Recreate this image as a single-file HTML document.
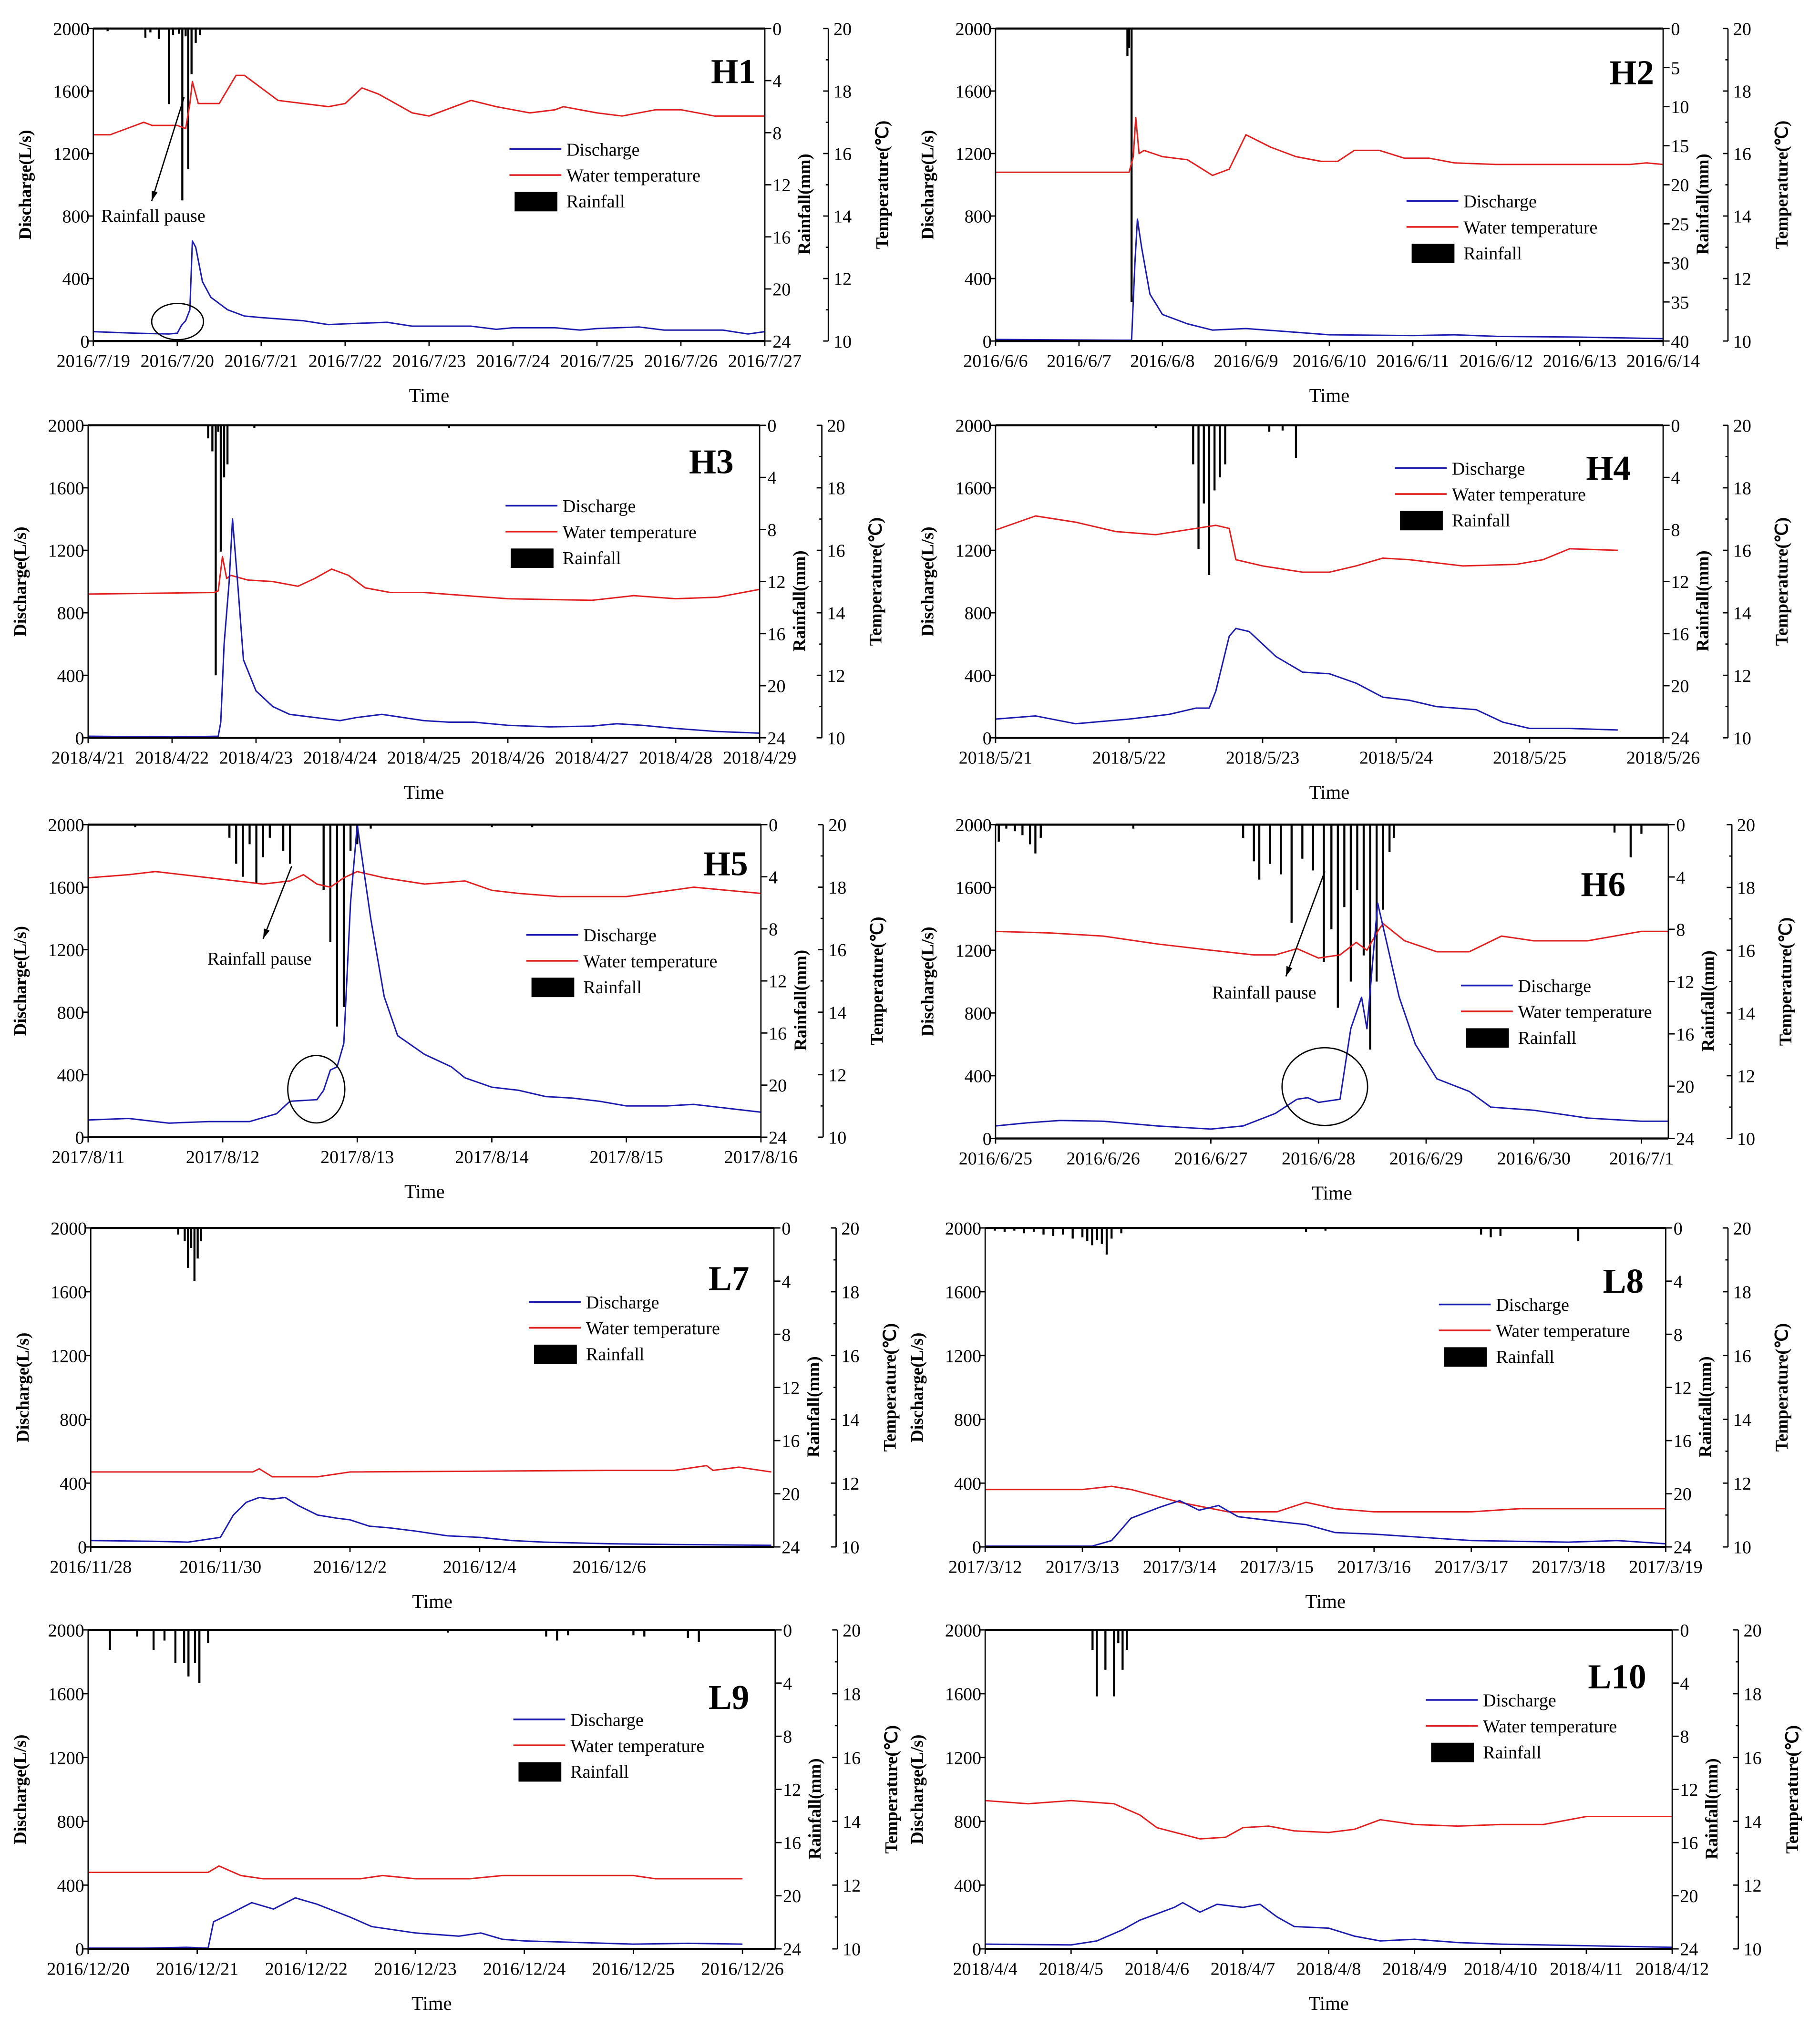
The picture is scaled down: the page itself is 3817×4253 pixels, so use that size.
<!DOCTYPE html>
<html><head><meta charset="utf-8"><title>Hydrographs</title>
<style>html,body{margin:0;padding:0;background:#fff}svg{display:block}text{font-family:"Liberation Serif",serif;fill:#000}</style>
</head><body>
<svg id="fig" xmlns="http://www.w3.org/2000/svg" width="3817" height="4253" viewBox="0 0 1404 1564" preserveAspectRatio="none"></svg>
<script>
// ---- data (days since first tick, values) ----
const h1Dates=["2016/7/19","2016/7/20","2016/7/21","2016/7/22","2016/7/23","2016/7/24","2016/7/25","2016/7/26","2016/7/27"];
const h1Discharge=[[0,60],[0.5,50],[0.9,45],[1,50],[1.05,100],[1.1,130],[1.15,200],[1.18,640],[1.22,600],[1.3,380],[1.4,280],[1.6,200],[1.8,160],[2,150],[2.5,130],[2.8,105],[3,110],[3.5,120],[3.8,95],[4,95],[4.5,95],[4.8,75],[5,85],[5.5,85],[5.8,70],[6,80],[6.5,90],[6.8,70],[7,70],[7.5,70],[7.8,45],[8,60]];
const h1Temp=[[0,16.6],[0.2,16.6],[0.5,16.9],[0.6,17],[0.7,16.9],[1,16.9],[1.1,16.8],[1.15,17.6],[1.18,18.3],[1.25,17.6],[1.5,17.6],[1.7,18.5],[1.8,18.5],[2,18.1],[2.2,17.7],[2.5,17.6],[2.8,17.5],[3,17.6],[3.2,18.1],[3.4,17.9],[3.8,17.3],[4,17.2],[4.5,17.7],[4.8,17.5],[5,17.4],[5.2,17.3],[5.5,17.4],[5.6,17.5],[6,17.3],[6.3,17.2],[6.7,17.4],[7,17.4],[7.4,17.2],[8,17.2]];
const h1Rain=[[0.17,0.2],[0.62,0.7],[0.68,0.3],[0.78,0.8],[0.9,5.8],[0.95,0.5],[1.02,0.4],[1.06,13.2],[1.1,0.6],[1.13,10.8],[1.17,3.5],[1.22,1.1],[1.27,0.5]];
const h2Dates=["2016/6/6","2016/6/7","2016/6/8","2016/6/9","2016/6/10","2016/6/11","2016/6/12","2016/6/13","2016/6/14"];
const h2Discharge=[[0,10],[1.5,5],[1.63,5],[1.67,500],[1.7,780],[1.75,600],[1.85,300],[2,170],[2.3,110],[2.6,70],[3,80],[3.5,60],[4,40],[5,35],[5.5,40],[6,30],[7,25],[8,15]];
const h2Temp=[[0,15.4],[1.6,15.4],[1.65,15.9],[1.68,17.15],[1.72,16],[1.78,16.1],[2,15.9],[2.3,15.8],[2.6,15.3],[2.8,15.5],[3,16.6],[3.3,16.2],[3.6,15.9],[3.9,15.75],[4.1,15.75],[4.3,16.1],[4.6,16.1],[4.9,15.85],[5.2,15.85],[5.5,15.7],[6,15.65],[7.6,15.65],[7.8,15.7],[8,15.65]];
const h2Rain=[[1.58,3.5],[1.6,2.5],[1.63,35]];
const h3Dates=["2018/4/21","2018/4/22","2018/4/23","2018/4/24","2018/4/25","2018/4/26","2018/4/27","2018/4/28","2018/4/29"];
const h3Discharge=[[0,10],[1,5],[1.55,10],[1.58,100],[1.62,600],[1.68,1000],[1.72,1400],[1.78,1000],[1.85,500],[2,300],[2.2,200],[2.4,150],[2.7,130],[3,110],[3.2,130],[3.5,150],[4,110],[4.3,100],[4.6,100],[5,80],[5.5,70],[6,75],[6.3,90],[6.6,80],[7,60],[7.5,40],[8,30]];
const h3Temp=[[0,14.6],[1.5,14.65],[1.55,14.7],[1.6,15.8],[1.65,15.1],[1.7,15.2],[1.9,15.05],[2.2,15],[2.5,14.85],[2.7,15.1],[2.9,15.4],[3.1,15.2],[3.3,14.8],[3.6,14.65],[4,14.65],[4.5,14.55],[5,14.45],[6,14.4],[6.5,14.55],[7,14.45],[7.5,14.5],[8,14.75]];
const h3Rain=[[1.43,1],[1.48,2],[1.52,19.2],[1.55,0.5],[1.58,9.7],[1.62,4],[1.66,3],[1.98,0.2],[4.3,0.2]];
const h4Dates=["2018/5/21","2018/5/22","2018/5/23","2018/5/24","2018/5/25","2018/5/26"];
const h4Discharge=[[0,120],[0.3,140],[0.6,90],[1,120],[1.3,150],[1.5,190],[1.6,190],[1.65,300],[1.75,650],[1.8,700],[1.9,680],[2.1,520],[2.3,420],[2.5,410],[2.7,350],[2.9,260],[3.1,240],[3.3,200],[3.6,180],[3.8,100],[4,60],[4.3,60],[4.66,50]];
const h4Temp=[[0,16.65],[0.3,17.1],[0.6,16.9],[0.9,16.6],[1.2,16.5],[1.5,16.7],[1.65,16.8],[1.75,16.7],[1.8,15.7],[2,15.5],[2.3,15.3],[2.5,15.3],[2.7,15.5],[2.9,15.75],[3.1,15.7],[3.5,15.5],[3.9,15.55],[4.1,15.7],[4.3,16.05],[4.66,16]];
const h4Rain=[[1.2,0.2],[1.48,3],[1.52,9.5],[1.56,6],[1.6,11.5],[1.64,5],[1.68,4],[1.72,3],[2.05,0.5],[2.15,0.4],[2.25,2.5]];
const h5Dates=["2017/8/11","2017/8/12","2017/8/13","2017/8/14","2017/8/15","2017/8/16"];
const h5Discharge=[[0,110],[0.3,120],[0.6,90],[0.9,100],[1.2,100],[1.4,150],[1.5,230],[1.7,240],[1.75,300],[1.8,430],[1.85,450],[1.9,600],[1.95,1500],[2,2000],[2.1,1400],[2.2,900],[2.3,650],[2.5,530],[2.7,450],[2.8,380],[3,320],[3.2,300],[3.4,260],[3.6,250],[3.8,230],[4,200],[4.3,200],[4.5,210],[4.7,190],[5,160]];
const h5Temp=[[0,18.3],[0.3,18.4],[0.5,18.5],[0.9,18.3],[1.3,18.1],[1.5,18.2],[1.6,18.4],[1.7,18.1],[1.8,18],[1.9,18.3],[2,18.5],[2.2,18.3],[2.5,18.1],[2.8,18.2],[3,17.9],[3.2,17.8],[3.5,17.7],[4,17.7],[4.5,18],[5,17.8]];
const h5Rain=[[0.35,0.2],[1.05,1],[1.1,3],[1.15,4],[1.2,1.5],[1.25,4.5],[1.3,2.5],[1.35,1],[1.45,2],[1.5,3],[1.75,5],[1.8,9],[1.85,15.5],[1.9,14],[1.95,2],[2,1.5],[2.1,0.3],[3,0.2],[3.3,0.2]];
const h6Dates=["2016/6/25","2016/6/26","2016/6/27","2016/6/28","2016/6/29","2016/6/30","2016/7/1"];
const h6Discharge=[[0,80],[0.3,100],[0.6,115],[1,110],[1.5,80],[2,60],[2.3,80],[2.6,160],[2.8,250],[2.9,260],[3,230],[3.2,250],[3.3,700],[3.4,900],[3.45,700],[3.55,1500],[3.65,1200],[3.75,900],[3.9,600],[4.1,380],[4.4,300],[4.6,200],[5,180],[5.5,130],[6,110],[6.25,110]];
const h6Temp=[[0,16.6],[0.5,16.55],[1,16.45],[1.5,16.2],[2,16],[2.4,15.85],[2.6,15.85],[2.8,16.05],[3,15.75],[3.2,15.85],[3.35,16.25],[3.45,16],[3.55,16.6],[3.6,16.85],[3.8,16.3],[4.1,15.95],[4.4,15.95],[4.7,16.45],[5,16.3],[5.5,16.3],[6,16.6],[6.25,16.6]];
const h6Rain=[[0.03,1.3],[0.1,0.3],[0.18,0.5],[0.25,0.8],[0.32,1.5],[0.37,2.2],[0.42,1],[1.28,0.3],[2.3,1],[2.4,2.8],[2.45,4.2],[2.55,3],[2.65,3.8],[2.75,7.5],[2.85,2.6],[2.95,3.5],[3.05,10.5],[3.12,8],[3.18,14],[3.24,6.3],[3.3,12],[3.36,5],[3.42,10],[3.48,17.2],[3.54,12],[3.6,6.5],[3.66,2.1],[3.7,1],[5.75,0.6],[5.9,2.5],[6,0.7]];
const l7Dates=["2016/11/28","2016/11/30","2016/12/2","2016/12/4","2016/12/6"];
const l7Discharge=[[0,40],[1,35],[1.5,30],[2,60],[2.2,200],[2.4,280],[2.6,310],[2.8,300],[3,310],[3.2,260],[3.5,200],[3.8,180],[4,170],[4.3,130],[4.6,120],[5,100],[5.5,70],[6,60],[6.5,40],[7,30],[8,20],[9,15],[10.5,10]];
const l7Temp=[[0,12.35],[2.5,12.35],[2.6,12.45],[2.8,12.2],[3.5,12.2],[4,12.35],[8,12.4],[9,12.4],[9.5,12.55],[9.6,12.4],[10,12.5],[10.5,12.35]];
const l7Rain=[[1.35,0.5],[1.45,1],[1.5,3],[1.55,1.5],[1.6,4],[1.65,2.3],[1.7,1]];
const l8Dates=["2017/3/12","2017/3/13","2017/3/14","2017/3/15","2017/3/16","2017/3/17","2017/3/18","2017/3/19"];
const l8Discharge=[[0,5],[1.1,5],[1.3,40],[1.5,180],[1.8,250],[2,290],[2.2,230],[2.4,260],[2.6,190],[3,160],[3.3,140],[3.6,90],[4,80],[4.5,60],[5,40],[6,30],[6.5,40],[7,20]];
const l8Temp=[[0,11.8],[1,11.8],[1.3,11.9],[1.5,11.8],[2,11.4],[2.5,11.1],[3,11.1],[3.3,11.4],[3.6,11.2],[4,11.1],[5,11.1],[5.5,11.2],[7,11.2]];
const l8Rain=[[0.1,0.2],[0.2,0.3],[0.3,0.2],[0.4,0.4],[0.5,0.3],[0.6,0.5],[0.7,0.6],[0.8,0.5],[0.9,0.8],[1,0.7],[1.05,1],[1.1,1.3],[1.15,0.9],[1.2,1.2],[1.25,2],[1.3,0.8],[1.4,0.4],[3.3,0.3],[3.5,0.2],[5.1,0.5],[5.2,0.7],[5.3,0.6],[6.1,1]];
const l9Dates=["2016/12/20","2016/12/21","2016/12/22","2016/12/23","2016/12/24","2016/12/25","2016/12/26"];
const l9Discharge=[[0,5],[0.5,5],[0.9,10],[1.1,5],[1.15,170],[1.3,220],[1.5,290],[1.7,250],[1.9,320],[2.1,280],[2.4,200],[2.6,140],[3,100],[3.4,80],[3.6,100],[3.8,60],[4,50],[4.5,40],[5,30],[5.5,35],[6,30]];
const l9Temp=[[0,12.4],[1.1,12.4],[1.2,12.6],[1.4,12.3],[1.6,12.2],[2.5,12.2],[2.7,12.3],[3,12.2],[3.5,12.2],[3.8,12.3],[5,12.3],[5.2,12.2],[6,12.2]];
const l9Rain=[[0.2,1.5],[0.45,0.5],[0.6,1.5],[0.7,0.8],[0.8,2.5],[0.88,2.5],[0.92,3.5],[0.98,2.5],[1.02,4],[1.1,1],[3.3,0.2],[4.2,0.5],[4.3,0.8],[4.4,0.4],[5,0.4],[5.1,0.5],[5.5,0.6],[5.6,0.9]];
const l10Dates=["2018/4/4","2018/4/5","2018/4/6","2018/4/7","2018/4/8","2018/4/9","2018/4/10","2018/4/11","2018/4/12"];
const l10Discharge=[[0,30],[1,25],[1.3,50],[1.6,120],[1.8,180],[2,220],[2.2,260],[2.3,290],[2.5,230],[2.7,280],[3,260],[3.2,280],[3.4,200],[3.6,140],[4,130],[4.3,80],[4.6,50],[5,60],[5.5,40],[6,30],[7,20],[8,10]];
const l10Temp=[[0,14.65],[0.5,14.55],[1,14.65],[1.5,14.55],[1.8,14.2],[2,13.8],[2.5,13.45],[2.8,13.5],[3,13.8],[3.3,13.85],[3.6,13.7],[4,13.65],[4.3,13.75],[4.6,14.05],[5,13.9],[5.5,13.85],[6,13.9],[6.5,13.9],[7,14.15],[8,14.15]];
const l10Rain=[[1.25,1.5],[1.3,5],[1.4,3],[1.5,5],[1.55,1],[1.6,3],[1.65,1.5]];

const NS="http://www.w3.org/2000/svg";
const svg=document.getElementById('fig');
function el(tag,attrs,parent,txt){const e=document.createElementNS(NS,tag);for(const k in attrs)e.setAttribute(k,attrs[k]);if(txt!==undefined)e.textContent=txt;(parent||svg).appendChild(e);return e;}

function panel(c){
  const g=el('g',{});
  
  
  const xs=d=>c.x0+(c.x1-c.x0)*d/c.span;
  const yq=v=>c.y1-(c.y1-c.y0)*v/2000;
  const yr=v=>c.y0+(c.y1-c.y0)*v/c.rainMax;
  const yt=v=>c.y1-(c.y1-c.y0)*(v-10)/10;
  c.rain.forEach(r=>{const b=el('rect',{x:xs(r[0])-0.8,y:c.y0,width:1.6,height:yr(r[1])-c.y0,fill:'#000'},g);
    
    });
  const tp=el('polyline',{points:c.temp.map(p=>xs(p[0])+','+yt(p[1])).join(' '),fill:'none',stroke:'#e32020','stroke-width':1.1,'stroke-linejoin':'round'},g);
  
  
  const qp=el('polyline',{points:c.q.map(p=>xs(p[0])+','+yq(p[1])).join(' '),fill:'none',stroke:'#1c1cb0','stroke-width':1.1,'stroke-linejoin':'round'},g);
  
  
  el('line',{x1:c.x0,y1:c.y0,x2:c.x1,y2:c.y0,stroke:'#000','stroke-width':1.6},g);
  el('line',{x1:c.x0,y1:c.y1,x2:c.x1,y2:c.y1,stroke:'#000','stroke-width':1.6},g);
  el('line',{x1:c.x0,y1:c.y0,x2:c.x0,y2:c.y1,stroke:'#000','stroke-width':1},g);
  el('line',{x1:c.x1,y1:c.y0,x2:c.x1,y2:c.y1,stroke:'#000','stroke-width':1},g);
  el('line',{x1:c.tx,y1:c.y0,x2:c.tx,y2:c.y1,stroke:'#000','stroke-width':1},g);
  for(let v=0;v<=2000;v+=400){el('line',{x1:c.x0-4,y1:yq(v),x2:c.x0,y2:yq(v),stroke:'#000'},g);
    el('text',{x:c.x0-3,y:yq(v)+5,'font-size':14,'text-anchor':'end'},g,String(v));}
  for(let v=0;v<=c.rainMax;v+=c.rainStep){el('line',{x1:c.x1,y1:yr(v),x2:c.x1+5,y2:yr(v),stroke:'#000'},g);
    el('text',{x:c.x1+6,y:yr(v)+5,'font-size':14},g,String(v));}
  for(let v=10;v<=20;v+=1){const y=yt(v);el('line',{x1:c.tx-(v%2?2:4),y1:y,x2:c.tx,y2:y,stroke:'#000'},g);
    if(v%2===0)el('text',{x:c.tx+4,y:y+5,'font-size':14},g,String(v));}
  c.dates.forEach((d,i)=>{const x=xs(i*c.step);el('line',{x1:x,y1:c.y1,x2:x,y2:c.y1+4,stroke:'#000'},g);
    el('text',{x:x,y:c.y1+20,'font-size':14,'text-anchor':'middle'},g,d);});
  const t1=el('text',{x:(c.x0+c.x1)/2,y:c.y1+47,'font-size':15,'text-anchor':'middle'},g,'Time');
  
  
  const cy=(c.y0+c.y1)/2;
  const a1=el('text',{transform:`translate(${c.x0-48},${cy}) rotate(-90)`,'font-size':13.5,'text-anchor':'middle','font-weight':'bold'},g,'Discharge(L/s)');
  
  
  const a2=el('text',{transform:`translate(${c.x1+35},${cy+15}) rotate(-90)`,'font-size':13.5,'text-anchor':'middle','font-weight':'bold'},g,'Rainfall(mm)');
  
  
  const a3=el('text',{transform:`translate(${c.tx+46},${cy}) rotate(-90)`,'font-size':13.5,'text-anchor':'middle','font-weight':'bold'},g,'Temperature(℃)');
  
  
  const lb=el('text',{x:c.lx,y:c.ly,'font-size':27,'font-weight':'bold','text-anchor':'end'},g,c.label);
  
  
  const L=c.leg;
  el('line',{x1:L[0],y1:L[1],x2:L[0]+40,y2:L[1],stroke:'#1c1cb0','stroke-width':1.3},g);
  el('text',{x:L[0]+44,y:L[1]+5,'font-size':14},g,'Discharge');
  el('line',{x1:L[0],y1:L[1]+20,x2:L[0]+40,y2:L[1]+20,stroke:'#e32020','stroke-width':1.3},g);
  el('text',{x:L[0]+44,y:L[1]+25,'font-size':14},g,'Water temperature');
  el('rect',{x:L[0]+4,y:L[1]+33,width:33,height:15,fill:'#000'},g);
  el('text',{x:L[0]+44,y:L[1]+45,'font-size':14},g,'Rainfall');
  if(c.ann){const A=c.ann;
    el('line',{x1:A.a[0],y1:A.a[1],x2:A.a[2],y2:A.a[3],stroke:'#000','stroke-width':1},g);
    const ang=Math.atan2(A.a[3]-A.a[1],A.a[2]-A.a[0]);const hx=A.a[2],hy=A.a[3];
    el('polygon',{points:`${hx},${hy} ${hx-8*Math.cos(ang-0.3)},${hy-8*Math.sin(ang-0.3)} ${hx-8*Math.cos(ang+0.3)},${hy-8*Math.sin(ang+0.3)}`,fill:'#000'},g);
    el('text',{x:A.t[0],y:A.t[1],'font-size':14},g,'Rainfall pause');
    el('ellipse',{cx:A.e[0],cy:A.e[1],rx:A.e[2],ry:A.e[3],fill:'none',stroke:'#000','stroke-width':1},g);}
}
panel({label:'H1',x0:72,x1:590,y0:22,y1:263,tx:639,span:8,step:1,dates:h1Dates,rainMax:24,rainStep:4,q:h1Discharge,temp:h1Temp,rain:h1Rain,lx:583,ly:64,leg:[393,115],ann:{a:[142,75,117,155],t:[78,171],e:[137,248,20,14]}});
panel({label:'H2',x0:768,x1:1283,y0:22,y1:263,tx:1333,span:8,step:1,dates:h2Dates,rainMax:40,rainStep:5,q:h2Discharge,temp:h2Temp,rain:h2Rain,lx:1276,ly:65,leg:[1085,155]});
panel({label:'H3',x0:68,x1:586,y0:328,y1:569,tx:634,span:8,step:1,dates:h3Dates,rainMax:24,rainStep:4,q:h3Discharge,temp:h3Temp,rain:h3Rain,lx:566,ly:365,leg:[390,390]});
panel({label:'H4',x0:768,x1:1283,y0:328,y1:569,tx:1333,span:5,step:1,dates:h4Dates,rainMax:24,rainStep:4,q:h4Discharge,temp:h4Temp,rain:h4Rain,lx:1258,ly:370,leg:[1076,361]});
panel({label:'H5',x0:68,x1:587,y0:636,y1:877,tx:635,span:5,step:1,dates:h5Dates,rainMax:24,rainStep:4,q:h5Discharge,temp:h5Temp,rain:h5Rain,lx:577,ly:675,leg:[406,721],ann:{a:[225,668,203,724],t:[160,744],e:[244,840,22,26]}});
panel({label:'H6',x0:768,x1:1287,y0:636,y1:878,tx:1336,span:6.25,step:1,dates:h6Dates,rainMax:24,rainStep:4,q:h6Discharge,temp:h6Temp,rain:h6Rain,lx:1254,ly:691,leg:[1127,760],ann:{a:[1022,672,992,753],t:[935,770],e:[1022,838,33,30]}});
panel({label:'L7',x0:70,x1:597,y0:947,y1:1193,tx:645,span:10.54,step:2,dates:l7Dates,rainMax:24,rainStep:4,q:l7Discharge,temp:l7Temp,rain:l7Rain,lx:578,ly:995,leg:[408,1004]});
panel({label:'L8',x0:760,x1:1285,y0:947,y1:1193,tx:1333,span:7,step:1,dates:l8Dates,rainMax:24,rainStep:4,q:l8Discharge,temp:l8Temp,rain:l8Rain,lx:1268,ly:997,leg:[1110,1006]});
panel({label:'L9',x0:68,x1:598,y0:1257,y1:1503,tx:646,span:6.3,step:1,dates:l9Dates,rainMax:24,rainStep:4,q:l9Discharge,temp:l9Temp,rain:l9Rain,lx:578,ly:1318,leg:[396,1326]});
panel({label:'L10',x0:760,x1:1290,y0:1257,y1:1503,tx:1341,span:8,step:1,dates:l10Dates,rainMax:24,rainStep:4,q:l10Discharge,temp:l10Temp,rain:l10Rain,lx:1270,ly:1302,leg:[1100,1311]});
</script>
</body></html>
